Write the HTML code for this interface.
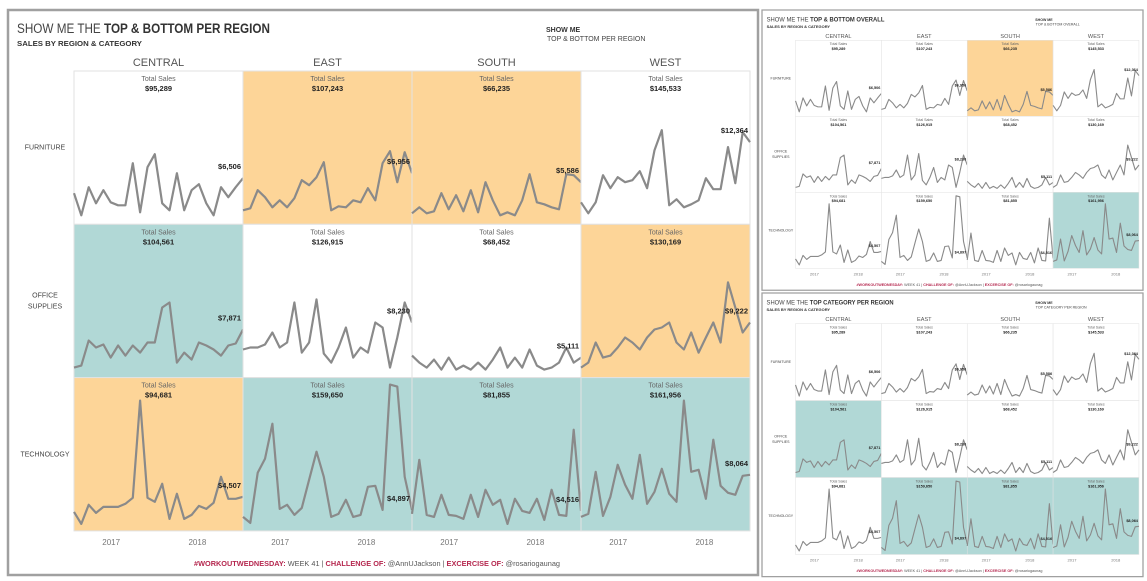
<!DOCTYPE html>
<html><head><meta charset="utf-8">
<style>
html,body{margin:0;padding:0;background:#fff;}
svg{display:block;font-family:"Liberation Sans",sans-serif;}
</style></head>
<body>
<svg id="root" width="1147" height="581" viewBox="0 0 1147 581">
<rect x="0" y="0" width="1147" height="581" fill="#fff"/>
</svg>
<script>
const regions = ["CENTRAL","EAST","SOUTH","WEST"];
const categories = ["FURNITURE","OFFICE SUPPLIES","TECHNOLOGY"];
const yearTicks = ["2017","2018"];
// monthly sales (scaled units), 24 months per cell
const furnitureCentral = [31,9,37,21,34,22,19,19,61,12,57,70,21,14,51,14,34,40,21,9,37,27,37,46];
const furnitureEast = [14,16,34,27,17,24,17,26,44,39,47,62,14,18,17,24,22,36,24,61,73,42,72,51];
const furnitureSouth = [11,17,11,13,31,15,29,13,34,12,42,24,9,12,9,24,50,22,20,17,15,50,49,42];
const furnitureWest = [22,11,22,49,36,47,42,44,53,36,74,94,19,25,17,20,24,46,35,35,77,41,92,82];
const officeCentral = [10,12,37,30,33,20,32,22,32,25,35,35,70,75,15,25,18,35,32,28,22,32,34,48];
const officeEast = [28,30,30,33,45,30,35,75,25,35,78,24,15,30,50,20,30,25,55,50,10,40,75,55];
const officeSouth = [22,15,10,18,8,20,8,12,8,15,8,18,30,10,20,10,28,12,8,10,15,30,15,20];
const officeWest = [10,15,35,20,22,30,40,35,28,40,48,50,55,35,28,45,25,40,55,35,95,70,45,55];
const techCentral = [19,7,26,18,24,24,24,27,33,130,33,29,47,12,37,12,16,25,22,28,54,32,32,34];
const techEast = [14,8,58,72,107,22,26,16,23,51,79,54,14,17,31,14,16,44,45,21,146,144,54,21];
const techSouth = [17,71,16,14,36,16,15,12,36,14,41,26,31,7,32,20,18,32,11,41,16,15,101,20];
const techWest = [14,17,59,15,34,66,46,32,76,27,39,62,37,29,130,59,61,32,91,45,38,36,55,56];
const totals = [["$95,289","$107,243","$66,235","$145,533"],["$104,561","$126,915","$68,452","$130,169"],["$94,681","$159,650","$81,855","$161,956"]];
const endLabels = [["$6,506","$6,956","$5,586","$12,364"],["$7,871","$8,230","$5,111","$9,222"],["$4,507","$4,897","$4,516","$8,064"]];
const series = [[furnitureCentral,furnitureEast,furnitureSouth,furnitureWest],[officeCentral,officeEast,officeSouth,officeWest],[techCentral,techEast,techSouth,techWest]];
const yMax = 153;

const NS="http://www.w3.org/2000/svg";
const ORANGE="#fdd598", TEAL="#b1d8d6";
function mk(tag,attrs,parent,text){const e=document.createElementNS(NS,tag);for(const k in attrs)e.setAttribute(k,attrs[k]);if(text!==undefined)e.textContent=text;parent.appendChild(e);return e;}

function dashboard(parent, tx, ty, sx, sy, titleBold, showMeSub, titleLen, highlights, name){
  const g=mk("g",{transform:`translate(${tx},${ty}) scale(${sx},${sy})`},parent);
  
  
  const W=750,H=565;
  mk("rect",{x:0,y:0,width:W,height:H,fill:"#fff",stroke:"#a0a0a0","stroke-width":2.5},g);
  const t=mk("text",{x:9,y:23,"font-size":13.5,fill:"#444",textLength:titleLen,lengthAdjust:"spacingAndGlyphs"},g);
  
  
  mk("tspan",{},t,"SHOW ME THE ");
  mk("tspan",{"font-weight":"bold",fill:"#333"},t,titleBold);
  const st=mk("text",{x:9,y:36,"font-size":7.5,"font-weight":"bold",fill:"#333",textLength:125,lengthAdjust:"spacingAndGlyphs"},g,"SALES BY REGION & CATEGORY");
  
  
  const sm=mk("text",{x:538,y:22,"font-size":7,"font-weight":"bold",fill:"#333"},g,"SHOW ME");
  
  
  const sm2=mk("text",{x:539,y:31,"font-size":7,fill:"#444"},g,showMeSub);
  
  
  const gx=66, gy=61, cw=169, ch=153.3;
  regions.forEach((r,c)=>{
    const h=mk("text",{x:gx+cw*c+cw/2,y:gy-5,"font-size":11,fill:"#555","text-anchor":"middle"},g,r);
    
    
    yearTicks.forEach((y,i)=>{
      const yt=mk("text",{x:gx+cw*c+cw*(i?0.73:0.22),y:gy+3*ch+14,"font-size":8,fill:"#777","text-anchor":"middle"},g,y);
      
      
    });
  });
  categories.forEach((cat,ri)=>{
    const words=cat.split(" ");
    words.forEach((w,wi)=>{
      const rl=mk("text",{x:37,y:gy+ch*ri+ch/2+2+(wi-(words.length-1)/2)*11,"font-size":7,fill:"#444","text-anchor":"middle"},g,w);
      
      
    });
    regions.forEach((r,c)=>{
      const x0=gx+cw*c, y0=gy+ch*ri;
      const hl=highlights[ri][c];
      const cell=mk("rect",{x:x0,y:y0,width:cw,height:ch,fill:hl==="o"?ORANGE:hl==="t"?TEAL:"#fff",stroke:"#e2e2e2","stroke-width":1},g);
      
      
      mk("text",{x:x0+cw/2,y:y0+10,"font-size":7,fill:"#666","text-anchor":"middle"},g,"Total Sales");
      const tv=mk("text",{x:x0+cw/2,y:y0+20,"font-size":7.5,"font-weight":"bold",fill:"#222","text-anchor":"middle"},g,totals[ri][c]);
      
      
      const vals=series[ri][c];
      const n=vals.length;
      const xs=i=>x0+cw*i/(n-1);
      const ys=v=>y0+ch-v*(ch/yMax);
      const d=vals.map((v,i)=>(i?"L":"M")+xs(i).toFixed(1)+","+ys(v).toFixed(1)).join(" ");
      const p=mk("path",{d:d,fill:"none",stroke:"#8a8a8a","stroke-width":2.2,"stroke-linejoin":"round"},g);
      
      
      const ey=ys(vals[n-1]);
      const ly=Math.max(y0+30,Math.min(y0+ch-4,ey-9));
      const el=mk("text",{x:x0+cw-2,y:ly,"font-size":7.5,"font-weight":"bold",fill:"#222","text-anchor":"end"},g,endLabels[ri][c]);
      
      
    });
  });
  const f=mk("text",{x:W/2-6,y:H-9,"font-size":7.5,fill:"#555","text-anchor":"middle",textLength:366,lengthAdjust:"spacingAndGlyphs"},g);
  
  
  mk("tspan",{fill:"#b5284f","font-weight":"bold"},f,"#WORKOUTWEDNESDAY:");
  mk("tspan",{},f," WEEK 41 | ");
  mk("tspan",{fill:"#b5284f","font-weight":"bold"},f,"CHALLENGE OF:");
  mk("tspan",{},f," @AnnUJackson | ");
  mk("tspan",{fill:"#b5284f","font-weight":"bold"},f,"EXCERCISE OF:");
  mk("tspan",{},f," @rosariogaunag");
}
const root=document.getElementById("root");
dashboard(root,8,10,1,1,"TOP & BOTTOM PER REGION","TOP & BOTTOM PER REGION",253,
  [["","o","o",""],["t","","","o"],["o","t","t","t"]],"main-dashboard");
dashboard(root,762,10,0.508,0.496,"TOP & BOTTOM OVERALL","TOP & BOTTOM OVERALL",232,
  [["","","o",""],["","","",""],["","","","t"]],"overall-dashboard-thumbnail");
dashboard(root,762,293,0.508,0.502,"TOP CATEGORY PER REGION","TOP CATEGORY PER REGION",250,
  [["","","",""],["t","","",""],["","t","t","t"]],"category-dashboard-thumbnail");
</script>
</body></html>
